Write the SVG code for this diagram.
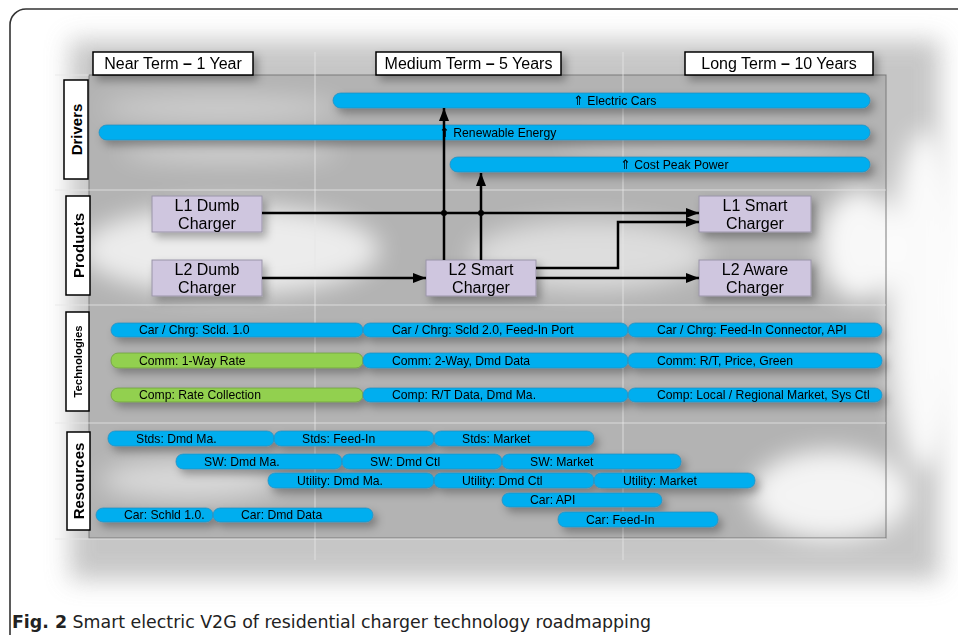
<svg xmlns="http://www.w3.org/2000/svg" width="958" height="635" viewBox="0 0 958 635">
<defs>
  <filter id="blur" x="-50%" y="-50%" width="200%" height="200%"><feGaussianBlur stdDeviation="12"/></filter>
  <filter id="sh" x="-20%" y="-50%" width="150%" height="250%"><feDropShadow dx="4" dy="5" stdDeviation="4" flood-color="#000" flood-opacity="0.3"/></filter>
  <marker id="arr" markerUnits="userSpaceOnUse" markerWidth="14" markerHeight="12" refX="13" refY="5" orient="auto">
    <path d="M0,0 L13,5 L0,10 Z" fill="#000"/>
  </marker>
</defs>
<style>
  .hdr{fill:#fff;stroke:#000;stroke-width:1.5}
  .hdrt{font-family:"Liberation Sans",Arial,sans-serif;font-size:16px;fill:#000;text-anchor:middle}
  .lbl{fill:#fff;stroke:#000;stroke-width:1.5}
  .lblt{font-family:"Liberation Sans",Arial,sans-serif;font-weight:bold;font-size:15px;fill:#000;text-anchor:middle}
  .bar{fill:#00AEEF;stroke:#2a8fbf;stroke-width:0.8}
  .gbar{fill:#92D050;stroke:#6f9e3c;stroke-width:0.8}
  .bt{font-family:"Liberation Sans",Arial,sans-serif;font-size:12.2px;fill:#000}
  .up{font-family:"DejaVu Sans",sans-serif;font-size:13px}
  .node rect{fill:#CFC6DF;stroke:#9a94a8;stroke-width:1}
  .nt{font-family:"Liberation Sans",Arial,sans-serif;font-size:16px;fill:#000;text-anchor:middle}
  .con{fill:none;stroke:#000;stroke-width:2.5}
  .grid{stroke:#e6e6e6;stroke-width:1;fill:none;opacity:0.8}
</style>
<!-- frame -->
<rect x="10" y="9" width="970" height="650" rx="16" fill="#fff" stroke="#333" stroke-width="1.6"/>
<!-- background -->
<g id="background">
  <rect x="70" y="40" width="870" height="540" fill="#bdbdbd" filter="url(#blur)" opacity="0.85"/>
  <rect x="89" y="75" width="797" height="463" fill="#b3b3b3"/>
  <g filter="url(#blur)">
    <ellipse cx="230" cy="250" rx="150" ry="45" fill="#fff" opacity="0.75"/>
    <ellipse cx="590" cy="255" rx="120" ry="35" fill="#fff" opacity="0.55"/>
    <ellipse cx="860" cy="245" rx="40" ry="55" fill="#fff" opacity="0.9"/>
    <ellipse cx="830" cy="495" rx="80" ry="45" fill="#fff" opacity="0.85"/>
    <ellipse cx="190" cy="480" rx="90" ry="20" fill="#fff" opacity="0.5"/>
    <ellipse cx="220" cy="108" rx="120" ry="12" fill="#fff" opacity="0.4"/>
    <ellipse cx="230" cy="152" rx="110" ry="10" fill="#fff" opacity="0.45"/>
    <ellipse cx="700" cy="145" rx="140" ry="10" fill="#fff" opacity="0.3"/>
    <ellipse cx="925" cy="300" rx="35" ry="170" fill="#fff" opacity="0.9"/>
  </g>
  <rect x="89" y="75" width="797" height="463" fill="none" stroke="#7a7a7a" stroke-width="1"/>
  <path class="grid" d="M315,52 V560 M623,52 V560 M55,75 H89 M55,190 H886 M55,305 H886 M55,423 H886 M55,539 H886"/>
</g>
<!-- headers -->
<g id="header-near" filter="url(#sh)"><rect class="hdr" x="93" y="52" width="160" height="23"/><text class="hdrt" x="173" y="69">Near Term <tspan font-weight="bold">–</tspan> 1 Year</text></g>
<g id="header-medium" filter="url(#sh)"><rect class="hdr" x="376" y="52" width="185" height="23"/><text class="hdrt" x="468.5" y="69">Medium Term <tspan font-weight="bold">–</tspan> 5 Years</text></g>
<g id="header-long" filter="url(#sh)"><rect class="hdr" x="685" y="52" width="188" height="23"/><text class="hdrt" x="779" y="69">Long Term <tspan font-weight="bold">–</tspan> 10 Years</text></g>
<!-- row labels -->
<g id="row-drivers"><rect class="lbl" x="64" y="80" width="24" height="99"/><text class="lblt" transform="translate(81.5,129.5) rotate(-90)">Drivers</text></g>
<g id="row-products"><rect class="lbl" x="66" y="196" width="24" height="99"/><text class="lblt" transform="translate(83.5,245.5) rotate(-90)">Products</text></g>
<g id="row-technologies"><rect class="lbl" x="66" y="312" width="23" height="99"/><text class="lblt" style="font-size:11.3px" transform="translate(81.5,361.5) rotate(-90)">Technologies</text></g>
<g id="row-resources"><rect class="lbl" x="67" y="432" width="23" height="98"/><text class="lblt" transform="translate(84,481) rotate(-90)">Resources</text></g>
<!-- drivers -->
<g id="driver-electric-cars" filter="url(#sh)"><rect class="bar" x="333" y="93" width="537" height="15" rx="7.5"/><text class="bt" x="573" y="104.5"><tspan class="up">⇑</tspan> Electric Cars</text></g>
<g id="driver-renewable" filter="url(#sh)"><rect class="bar" x="99" y="125" width="771" height="15" rx="7.5"/><text class="bt" x="439" y="136.5"><tspan class="up">⇑</tspan> Renewable Energy</text></g>
<g id="driver-cost-peak" filter="url(#sh)"><rect class="bar" x="450" y="157" width="420" height="15" rx="7.5"/><text class="bt" x="620" y="168.5"><tspan class="up">⇑</tspan> Cost Peak Power</text></g>
<!-- products -->
<g id="l1-dumb" class="node" filter="url(#sh)"><rect x="152" y="196" width="110" height="36"/><text class="nt" x="207" y="211">L1 Dumb</text><text class="nt" x="207" y="229">Charger</text></g>
<g id="l2-dumb" class="node" filter="url(#sh)"><rect x="152" y="260" width="110" height="36"/><text class="nt" x="207" y="275">L2 Dumb</text><text class="nt" x="207" y="293">Charger</text></g>
<g id="l2-smart" class="node" filter="url(#sh)"><rect x="426" y="260" width="110" height="36"/><text class="nt" x="481" y="275">L2 Smart</text><text class="nt" x="481" y="293">Charger</text></g>
<g id="l1-smart" class="node" filter="url(#sh)"><rect x="699" y="196" width="112" height="36"/><text class="nt" x="755" y="211">L1 Smart</text><text class="nt" x="755" y="229">Charger</text></g>
<g id="l2-aware" class="node" filter="url(#sh)"><rect x="699" y="260" width="112" height="36"/><text class="nt" x="755" y="275">L2 Aware</text><text class="nt" x="755" y="293">Charger</text></g>
<!-- connectors -->
<g id="connectors">
  <path class="con" d="M262,213 H699" marker-end="url(#arr)"/>
  <path class="con" d="M262,278 H426" marker-end="url(#arr)"/>
  <path class="con" d="M536,268 H618 V222 H699" marker-end="url(#arr)"/>
  <path class="con" d="M536,278 H699" marker-end="url(#arr)"/>
  <path class="con" d="M444,260 V108" marker-end="url(#arr)"/>
  <path class="con" d="M481,260 V173" marker-end="url(#arr)"/>
  <circle cx="444" cy="213" r="3" fill="#000"/>
  <circle cx="481" cy="213" r="3" fill="#000"/>
</g>
<!-- technologies -->
<g id="technologies" filter="url(#sh)">
  <g id="tech-car-1"><rect class="bar" x="111" y="323" width="252" height="14" rx="7"/><text class="bt" x="139" y="334.3">Car / Chrg: Scld. 1.0</text></g>
  <g id="tech-car-2"><rect class="bar" x="363" y="323" width="265" height="14" rx="7"/><text class="bt" x="392" y="334.3">Car / Chrg: Scld 2.0, Feed-In Port</text></g>
  <g id="tech-car-3"><rect class="bar" x="628" y="323" width="254" height="14" rx="7"/><text class="bt" x="657" y="334.3">Car / Chrg: Feed-In Connector, API</text></g>
  <g id="tech-comm-1"><rect class="gbar" x="111" y="353" width="252" height="15" rx="7"/><text class="bt" x="139" y="364.5">Comm: 1-Way Rate</text></g>
  <g id="tech-comm-2"><rect class="bar" x="363" y="353" width="265" height="15" rx="7"/><text class="bt" x="392" y="364.5">Comm: 2-Way, Dmd Data</text></g>
  <g id="tech-comm-3"><rect class="bar" x="628" y="353" width="254" height="15" rx="7"/><text class="bt" x="657" y="364.5">Comm: R/T, Price, Green</text></g>
  <g id="tech-comp-1"><rect class="gbar" x="111" y="388" width="252" height="14" rx="7"/><text class="bt" x="139" y="399.3">Comp: Rate Collection</text></g>
  <g id="tech-comp-2"><rect class="bar" x="363" y="388" width="265" height="14" rx="7"/><text class="bt" x="392" y="399.3">Comp: R/T Data, Dmd Ma.</text></g>
  <g id="tech-comp-3"><rect class="bar" x="628" y="388" width="254" height="14" rx="7"/><text class="bt" x="657" y="399.3">Comp: Local / Regional Market, Sys Ctl</text></g>
</g>
<!-- resources -->
<g id="resources" filter="url(#sh)">
  <g id="res-stds-1"><rect class="bar" x="108" y="431" width="166" height="15" rx="7"/><text class="bt" x="136" y="442.5">Stds: Dmd Ma.</text></g>
  <g id="res-stds-2"><rect class="bar" x="274" y="431" width="160" height="15" rx="7"/><text class="bt" x="302" y="442.5">Stds: Feed-In</text></g>
  <g id="res-stds-3"><rect class="bar" x="434" y="431" width="160" height="15" rx="7"/><text class="bt" x="462" y="442.5">Stds: Market</text></g>
  <g id="res-sw-1"><rect class="bar" x="176" y="454" width="166" height="15" rx="7"/><text class="bt" x="204" y="465.5">SW: Dmd Ma.</text></g>
  <g id="res-sw-2"><rect class="bar" x="342" y="454" width="160" height="15" rx="7"/><text class="bt" x="370" y="465.5">SW: Dmd Ctl</text></g>
  <g id="res-sw-3"><rect class="bar" x="502" y="454" width="179" height="15" rx="7"/><text class="bt" x="530" y="465.5">SW: Market</text></g>
  <g id="res-util-1"><rect class="bar" x="268" y="473" width="166" height="15" rx="7"/><text class="bt" x="297" y="484.5">Utility: Dmd Ma.</text></g>
  <g id="res-util-2"><rect class="bar" x="434" y="473" width="160" height="15" rx="7"/><text class="bt" x="462" y="484.5">Utility: Dmd Ctl</text></g>
  <g id="res-util-3"><rect class="bar" x="594" y="473" width="161" height="15" rx="7"/><text class="bt" x="623" y="484.5">Utility: Market</text></g>
  <g id="res-car-api"><rect class="bar" x="502" y="493" width="160" height="14" rx="7"/><text class="bt" x="530" y="504.3">Car: API</text></g>
  <g id="res-car-schld"><rect class="bar" x="96" y="508" width="117" height="14" rx="7"/><text class="bt" x="124" y="519.3">Car: Schld 1.0.</text></g>
  <g id="res-car-dmd"><rect class="bar" x="213" y="508" width="160" height="14" rx="7"/><text class="bt" x="241" y="519.3">Car: Dmd Data</text></g>
  <g id="res-car-feed"><rect class="bar" x="558" y="512" width="160" height="15" rx="7"/><text class="bt" x="586" y="523.5">Car: Feed-In</text></g>
</g>
<!-- caption -->
<text x="12" y="628" font-family="'DejaVu Sans Condensed','DejaVu Sans',sans-serif" font-size="18" fill="#222" textLength="639" lengthAdjust="spacingAndGlyphs"><tspan font-weight="bold">Fig. 2</tspan> Smart electric V2G of residential charger technology roadmapping</text>
</svg>
